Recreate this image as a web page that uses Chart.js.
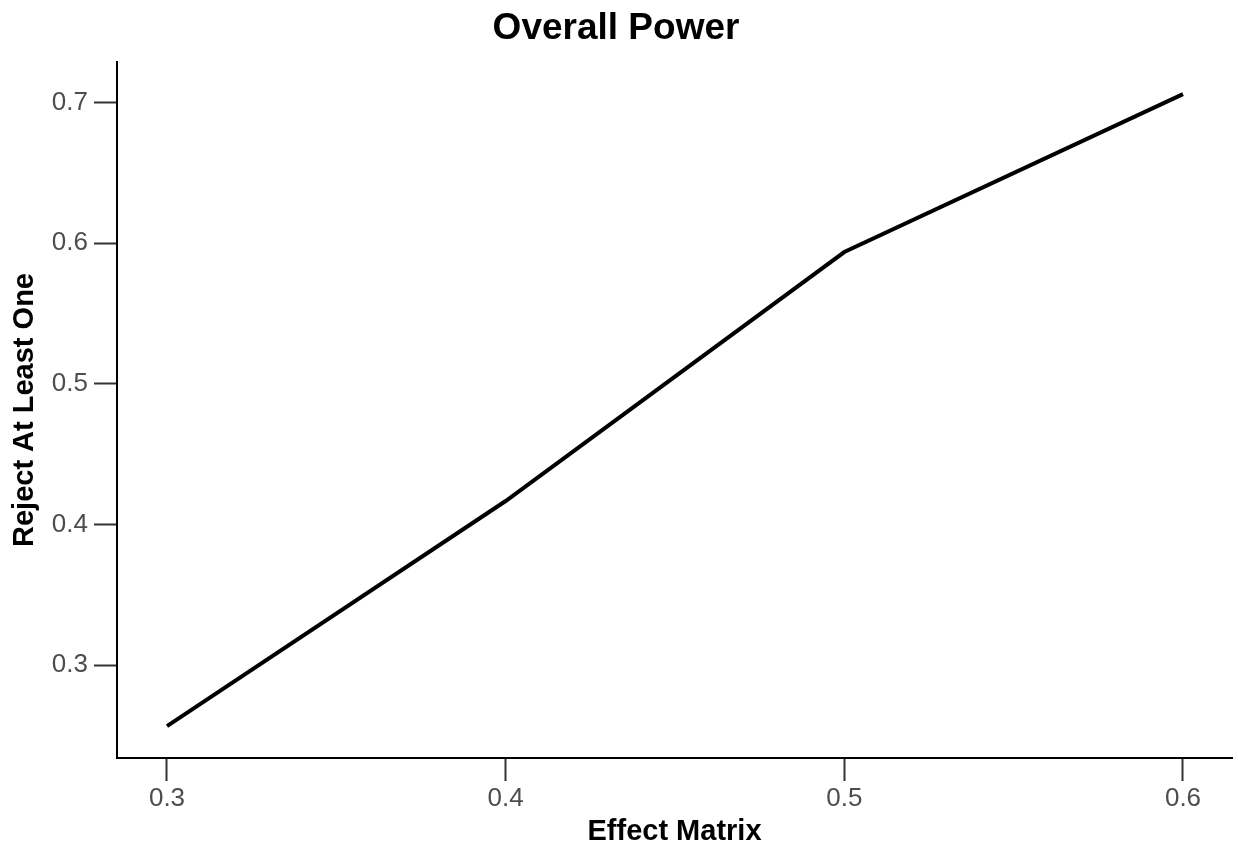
<!DOCTYPE html>
<html>
<head>
<meta charset="utf-8">
<script src="https://cdn.jsdelivr.net/npm/chart.js@4/dist/chart.umd.min.js"></script>
<style>
 body{margin:0;background:#fff;}
 #wrap{width:1238px;height:850px;}
</style>
</head>
<body>
<div id="wrap"><canvas id="powerChart"></canvas></div>
<script>
// effect sizes and the power (reject at least one) at each
const effects = [0.3, 0.4, 0.5, 0.6];
const rejectAtLeastOne = [0.2566, 0.4166, 0.5936, 0.7059];
const xTicks = [0.3, 0.4, 0.5, 0.6];
const yTicks = [0.3, 0.4, 0.5, 0.6, 0.7];

const FONT = "'Liberation Sans', Arial, sans-serif";
const tickColor = '#4d4d4d';

const points = effects.map((e, i) => ({x: e, y: rejectAtLeastOne[i]}));

const ctx = document.getElementById('powerChart').getContext('2d');
new Chart(ctx, {
 type: 'line',
 data: {
  datasets: [{
   label: 'Overall Power',
   data: points,
   borderColor: '#000',
   borderWidth: 4,
   pointRadius: 0,
   tension: 0,
   fill: false
  }]
 },
 options: {
  responsive: true,
  maintainAspectRatio: false,
  animation: false,
  layout: {padding: {left: 0, right: 6, top: 0, bottom: 0}},
  plugins: {
   legend: {display: false},
   tooltip: {enabled: false},
   title: {
    display: true,
    text: 'Overall Power',
    color: '#000',
    font: {family: FONT, size: 37, weight: 'bold'},
    padding: {top: 7, bottom: 10.6}
   }
  },
  scales: {
   x: {
    type: 'linear',
    min: 0.28524,
    max: 0.61447,
    afterBuildTicks: function(scale){
     scale.ticks = xTicks.map(v => ({value: v}));
    },
    afterFit: function(scale){ scale.height = 92; },
    border: {display: true, color: '#000', width: 2},
    grid: {display: true, drawOnChartArea: false, drawTicks: true, tickLength: 23, tickColor: '#333', tickWidth: 2},
    ticks: {
     color: tickColor,
     font: {family: FONT, size: 26},
     padding: 2,
     maxRotation: 0,
     callback: v => v.toFixed(1)
    },
    title: {
     display: true,
     text: 'Effect Matrix',
     color: '#000',
     font: {family: FONT, size: 29, weight: 'bold'},
     padding: {top: 0, bottom: 1}
    }
   },
   y: {
    type: 'linear',
    min: 0.2339,
    max: 0.7287,
    afterBuildTicks: function(scale){
     scale.ticks = yTicks.map(v => ({value: v}));
    },
    afterFit: function(scale){ scale.width = 117; },
    border: {display: true, color: '#000', width: 2},
    grid: {display: true, drawOnChartArea: false, drawTicks: true, tickLength: 23, tickColor: '#333', tickWidth: 2},
    ticks: {
     color: tickColor,
     font: {family: FONT, size: 26},
     padding: 6,
     callback: v => v.toFixed(1)
    },
    title: {
     display: true,
     text: 'Reject At Least One',
     color: '#000',
     font: {family: FONT, size: 29, weight: 'bold'},
     padding: {top: 8, bottom: 0}
    }
   }
  }
 }
});
</script>
</body>
</html>
